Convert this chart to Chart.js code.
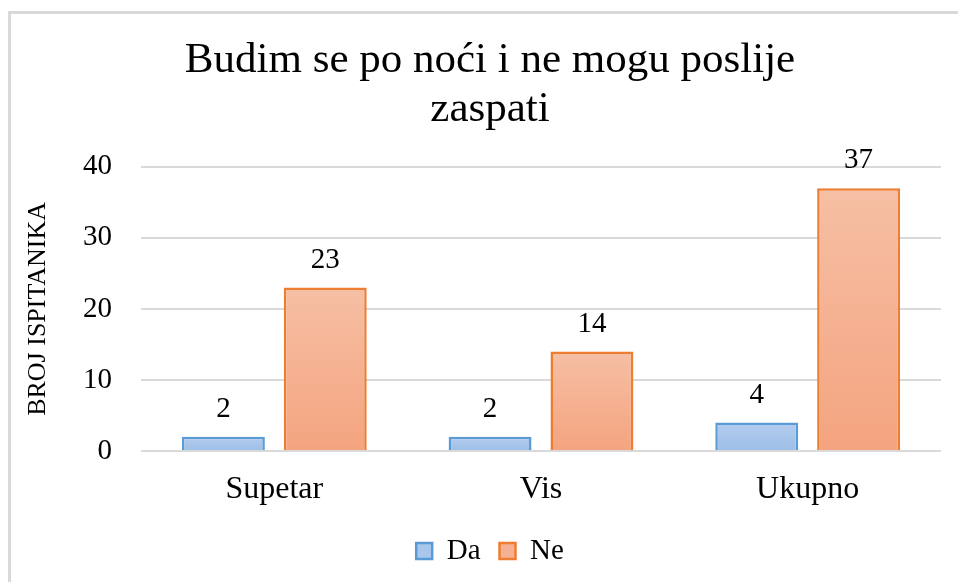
<!DOCTYPE html>
<html>
<head>
<meta charset="utf-8">
<script src="https://cdn.jsdelivr.net/npm/chart.js@4.4.1/dist/chart.umd.min.js"></script>
<style>
html, body { margin: 0; padding: 0; background: #fff; overflow: hidden; }
#frame { position: absolute; left: 8px; top: 11px; width: 2000px; height: 2000px;
  border-left: 3px solid #d9d9d9; border-top: 3px solid #d9d9d9; }
#wrap { position: absolute; left: 0; top: 0; width: 958px; height: 582px; }
</style>
</head>
<body>
<div id="frame"></div>
<div id="wrap"><canvas id="chart"></canvas></div>
<script>
var categories = ['Supetar', 'Vis', 'Ukupno'];
var daValues = [2, 2, 4];
var neValues = [23, 14, 37];
var yTicks = [0, 10, 20, 30, 40];

Chart.defaults.font.family = '"Liberation Serif", "Times New Roman", serif';
Chart.defaults.color = '#000';

function barGradient(top, bottom) {
	return function(context) {
		var chart = context.chart;
		if (!chart.chartArea || context.type !== 'data' || !chart.scales.y) return bottom;
		var y = chart.scales.y;
		var yTop = y.getPixelForValue(context.raw);
		var yBase = y.getPixelForValue(0);
		if (!isFinite(yTop) || !isFinite(yBase) || yTop === yBase) return bottom;
		var g = chart.ctx.createLinearGradient(0, yTop, 0, yBase);
		g.addColorStop(0, top);
		g.addColorStop(1, bottom);
		return g;
	};
}

// numbers above the bars
var valueLabels = {
	id: 'valueLabels',
	afterDatasetsDraw: function(chart) {
		var ctx = chart.ctx;
		ctx.save();
		ctx.font = '29px "Liberation Serif"';
		ctx.fillStyle = '#000';
		ctx.textAlign = 'center';
		ctx.textBaseline = 'alphabetic';
		chart.data.datasets.forEach(function(ds, i) {
			chart.getDatasetMeta(i).data.forEach(function(bar, j) {
				ctx.fillText(ds.data[j], bar.x, bar.y - 20);
			});
		});
		ctx.restore();
	}
};

var chart = new Chart(document.getElementById('chart'), {
	type: 'bar',
	data: {
		labels: categories,
		datasets: [{
			label: 'Da',
			data: daValues,
			backgroundColor: barGradient('#b3ccee', '#9dbfe8'),
			borderColor: '#5b9bd5',
			borderWidth: 2.5,
			categoryPercentage: 0.764,
			barPercentage: 0.814
		}, {
			label: 'Ne',
			data: neValues,
			backgroundColor: barGradient('#f6bfa4', '#f4a47f'),
			borderColor: '#ed7d31',
			borderWidth: 2.5,
			categoryPercentage: 0.764,
			barPercentage: 0.814
		}]
	},
	options: {
		responsive: true,
		maintainAspectRatio: false,
		animation: false,
		layout: {
			padding: { left: 39, right: 17, top: 0, bottom: 6.5 }
		},
		plugins: {
			title: {
				display: true,
				text: ['Budim se po noći i ne mogu poslije', 'zaspati'],
				font: { size: 43, weight: 'normal', lineHeight: 1.12 },
				color: '#000',
				padding: { top: 37, bottom: 33.5 }
			},
			legend: {
				position: 'bottom',
				labels: {
					boxWidth: 16,
					boxHeight: 16,
					padding: 19,
					font: { size: 29 },
					color: '#000',
					generateLabels: function(chart) {
						var items = Chart.defaults.plugins.legend.labels.generateLabels(chart);
						var fills = ['#a9c6ec', '#f5b191'];
						items.forEach(function(it, i) {
							it.fillStyle = fills[i];
							it.lineWidth = 2.5;
						});
						return items;
					}
				}
			},
			tooltip: { enabled: false }
		},
		scales: {
			x: {
				grid: { display: false, drawTicks: false },
				border: { display: false },
				ticks: { font: { size: 32 }, color: '#000', padding: 19 },
				afterFit: function(scale) { scale.height = 66.5; }
			},
			y: {
				min: 0,
				max: 40,
				grid: { color: '#d9d9d9', lineWidth: 2, drawTicks: false, tickLength: 0 },
				border: { display: false },
				ticks: { font: { size: 29 }, color: '#000', padding: 29 },
				afterBuildTicks: function(scale) {
					scale.ticks = yTicks.map(function(v) { return { value: v }; });
				},
				title: {
					display: true,
					text: 'BROJ ISPITANIKA',
					font: { size: 26 },
					color: '#000',
					padding: { top: -16, bottom: 0 }
				},
				afterFit: function(scale) { scale.width = 102; }
			}
		}
	},
	plugins: [valueLabels]
});
</script>
</body>
</html>
